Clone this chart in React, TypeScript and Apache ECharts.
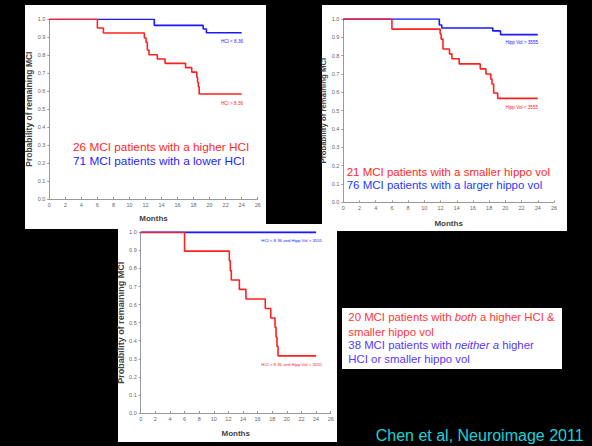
import React, { useEffect, useRef } from "react";
import * as echarts from "echarts";

// Panel 1: HCI
const p1HighMonths = [0, 6, 6.75, 11.86, 12.07, 12.23, 12.44, 13.48, 14.44, 17.0, 17.77, 18.4, 18.5, 18.6, 18.7, 24];
const p1HighSurv = [1, 0.952, 0.924, 0.896, 0.872, 0.829, 0.803, 0.779, 0.755, 0.731, 0.706, 0.678, 0.65, 0.624, 0.584, 0.584];
const p1LowMonths = [0, 13.1, 19.2, 19.6, 24];
const p1LowSurv = [1, 0.966, 0.946, 0.925, 0.925];

// Panel 2: hippocampal volume
const p2SmallMonths = [0, 6, 11.95, 12.08, 12.3, 13.1, 13.4, 14.3, 16.9, 17.6, 18.2, 18.35, 18.55, 19.05, 24];
const p2SmallSurv = [1, 0.945, 0.918, 0.89, 0.836, 0.81, 0.783, 0.755, 0.728, 0.7, 0.672, 0.645, 0.596, 0.567, 0.567];
const p2LargeMonths = [0, 11.85, 12.15, 18.45, 19.4, 24];
const p2LargeSurv = [1, 0.967, 0.951, 0.935, 0.915, 0.915];

// Panel 3: combined
const p3BothMonths = [0, 6, 12.13, 12.26, 12.4, 13.5, 14.4, 17.05, 17.8, 18.38, 18.52, 18.65, 18.8, 24];
const p3BothSurv = [1, 0.896, 0.843, 0.788, 0.736, 0.684, 0.631, 0.578, 0.526, 0.474, 0.421, 0.368, 0.316, 0.316];
const p3NeitherMonths = [0, 24];
const p3NeitherSurv = [1, 1];

const Y_NAME = "Probability of remaining MCI";
const X_NAME = "Months";

const FONT = "Liberation Sans, Arial, sans-serif";
const RED = "#ff2020";
const BLUE = "#1a1aff";

const zip = (xs: number[], ys: number[]) => xs.map((x, i) => [x, ys[i]]);

export default function App() {
  const ref = useRef<HTMLDivElement>(null);
  useEffect(() => {
    if (!ref.current) return;
    const chart = echarts.init(ref.current, null, { renderer: "svg" });

    const grids = [
      { left: 49.3, top: 19.3, width: 208.4, height: 179.7 },
      { left: 343.3, top: 19, width: 210.7, height: 183.3 },
      { left: 140.7, top: 232.3, width: 190, height: 180.7 },
    ];
    const yNameCfg = [
      { size: 8.5, gap: 12 },
      { size: 7.8, gap: 12.4 },
      { size: 9, gap: 12.2 },
    ];
    const xNameGap = [15, 17, 16];

    const xAxes = grids.map((_, i) => ({
      type: "value",
      gridIndex: i,
      min: 0,
      max: 26,
      interval: 2,
      name: X_NAME,
      nameLocation: "middle",
      nameGap: xNameGap[i],
      nameTextStyle: { fontFamily: FONT, fontSize: 8, fontWeight: "bold", color: "#444" },
      axisLine: { show: true, lineStyle: { color: "#999", width: 1 } },
      axisTick: { show: true, inside: true, length: 2, lineStyle: { color: "#999" } },
      axisLabel: { fontFamily: FONT, fontSize: 5.5, color: "#666", margin: 3 },
      splitLine: { show: false },
    }));
    const yAxes = grids.map((_, i) => ({
      type: "value",
      gridIndex: i,
      min: 0,
      max: 1,
      interval: 0.1,
      name: Y_NAME,
      nameLocation: "middle",
      nameGap: yNameCfg[i].gap,
      nameTextStyle: { fontFamily: FONT, fontSize: yNameCfg[i].size, fontWeight: "bold", color: "#444" },
      axisLine: { show: true, lineStyle: { color: "#999", width: 1 } },
      axisTick: { show: true, inside: false, length: 2, lineStyle: { color: "#999" } },
      axisLabel: {
        fontFamily: FONT,
        fontSize: 5.5,
        color: "#666",
        margin: 4,
        formatter: (v: number) => v.toFixed(1),
      },
      splitLine: { show: false },
    }));

    const mk = (i: number, xs: number[], ys: number[], color: string, w = 1.6) => ({
      type: "line",
      xAxisIndex: i,
      yAxisIndex: i,
      step: "end",
      symbol: "none",
      data: zip(xs, ys),
      lineStyle: { color, width: w },
      z: 3,
    });

    const txt = (x: number, y: number, text: string, size: number, color: string, align = "left") => ({
      type: "text",
      x,
      y,
      z: 10,
      style: {
        text,
        fill: color,
        fontSize: size,
        fontFamily: FONT,
        align,
        verticalAlign: "middle",
      },
    });

    const richTxt = (x: number, y: number, text: string, size: number, color: string) => ({
      type: "text",
      x,
      y,
      z: 10,
      style: {
        text,
        fill: color,
        fontSize: size,
        fontFamily: FONT,
        verticalAlign: "middle",
        rich: {
          a: { fontFamily: FONT, fontSize: size, fill: color },
          b: { fontFamily: FONT, fontSize: size, fill: color, fontStyle: "italic" },
        },
      },
    });

    const rect = (x: number, y: number, w: number, h: number) => ({
      type: "rect",
      z: -10,
      shape: { x, y, width: w, height: h },
      style: { fill: "#ffffff" },
    });

    const BOX_RED = "#ff3838";
    const BOX_BLUE = "#5a36ff";

    chart.setOption({
      animation: false,
      backgroundColor: "#000000",
      grid: grids,
      xAxis: xAxes,
      yAxis: yAxes,
      series: [
        mk(0, p1LowMonths, p1LowSurv, BLUE),
        mk(0, p1HighMonths, p1HighSurv, RED),
        mk(1, p2LargeMonths, p2LargeSurv, BLUE),
        mk(1, p2SmallMonths, p2SmallSurv, RED),
        mk(2, p3NeitherMonths, p3NeitherSurv, BLUE, 2),
        mk(2, p3BothMonths, p3BothSurv, RED),
      ],
      graphic: [
        rect(25, 5, 241, 224),
        rect(322, 5, 245, 226),
        rect(118, 224, 219, 218),
        rect(342, 308, 220, 61),
        // curve labels
        txt(243, 41, "HCI < 8.36", 4.6, BLUE, "right"),
        txt(243, 103, "HCI > 8.36", 4.6, RED, "right"),
        txt(538, 42, "Hipp Vol > 3555", 4.6, BLUE, "right"),
        txt(538, 107, "Hipp Vol < 3555", 4.6, RED, "right"),
        txt(322, 240, "HCI < 8.36 and Hipp Vol > 3555", 4.3, BLUE, "right"),
        txt(322, 364, "HCI > 8.36 and Hipp Vol < 3555", 4.3, RED, "right"),
        // annotations
        txt(73, 147, "26 MCI patients with a higher HCI", 11.8, "#ff2a2a"),
        txt(73, 161, "71 MCI patients with a lower HCI", 11.8, "#1f1fff"),
        txt(346.7, 172, "21 MCI patients with a smaller hippo vol", 11.5, "#ff2a2a"),
        txt(346.7, 185, "76 MCI patients with a larger hippo vol", 11.5, "#1f3aff"),
        richTxt(348.3, 317, "{a|20 MCI patients with }{b|both}{a| a higher HCI &}", 11.4, BOX_RED),
        txt(348.3, 332, "smaller hippo vol", 11.4, BOX_RED),
        richTxt(348.3, 345, "{a|38 MCI patients with }{b|neither a}{a| higher}", 11.4, BOX_BLUE),
        txt(348.3, 359, "HCI or smaller hippo vol", 11.4, BOX_BLUE),
        txt(375.7, 435, "Chen et al, Neuroimage 2011", 16, "#1fd0d8"),
      ],
    });
    return () => chart.dispose();
  }, []);
  return (
    <div
      ref={ref}
      style={{ position: "fixed", left: 0, top: 0, width: 592, height: 446, background: "#000" }}
    />
  );
}
